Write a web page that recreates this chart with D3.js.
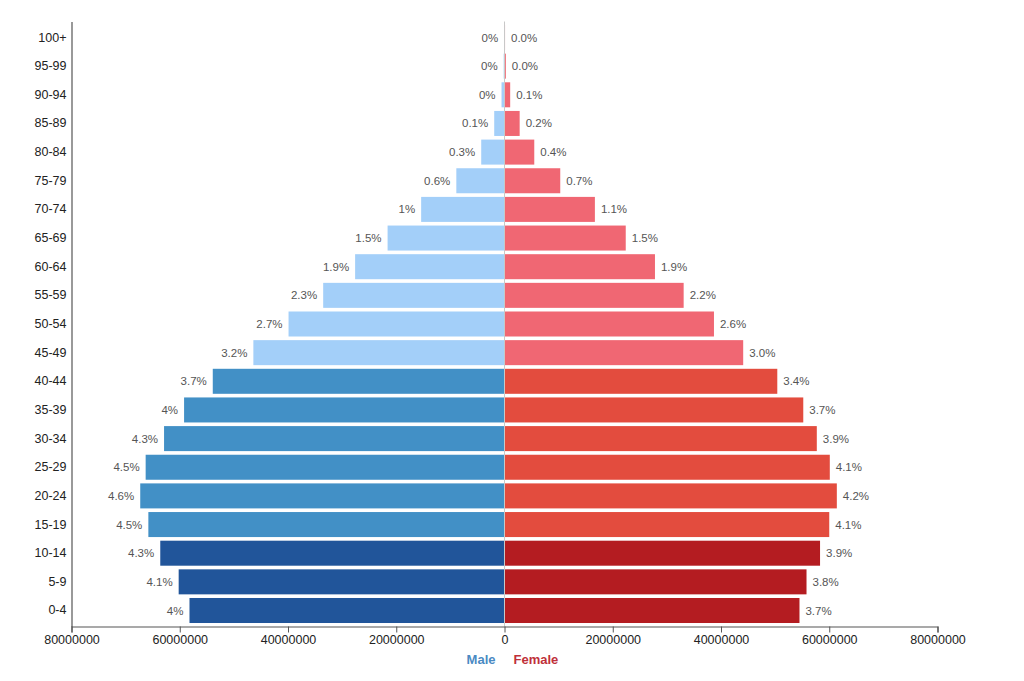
<!DOCTYPE html>
<html><head><meta charset="utf-8">
<script src="https://cdn.jsdelivr.net/npm/d3@7"></script>
<style>
body{margin:0;background:#fff;}
svg{font-family:"Liberation Sans",Arial,Helvetica,sans-serif;}
</style></head>
<body><svg id="c" width="1024" height="681"></svg>
<script>
const ageGroups = ["100+","95-99","90-94","85-89","80-84","75-79","70-74","65-69","60-64","55-59","50-54","45-49","40-44","35-39","30-34","25-29","20-24","15-19","10-14","5-9","0-4"];
const maleValues = [50000,150000,550000,1900000,4300000,8900000,15400000,21600000,27600000,33500000,39900000,46400000,53900000,59200000,62900000,66300000,67300000,65800000,63600000,60200000,58200000];
const femaleValues = [100000,250000,1050000,2800000,5500000,10300000,16700000,22400000,27800000,33100000,38700000,44100000,50400000,55200000,57700000,60100000,61400000,60000000,58300000,55800000,54500000];
const maleLabels = ["0%","0%","0%","0.1%","0.3%","0.6%","1%","1.5%","1.9%","2.3%","2.7%","3.2%","3.7%","4%","4.3%","4.5%","4.6%","4.5%","4.3%","4.1%","4%"];
const femaleLabels = ["0.0%","0.0%","0.1%","0.2%","0.4%","0.7%","1.1%","1.5%","1.9%","2.2%","2.6%","3.0%","3.4%","3.7%","3.9%","4.1%","4.2%","4.1%","3.9%","3.8%","3.7%"];
const groupOf = ["old","old","old","old","old","old","old","old","old","old","old","old","adult","adult","adult","adult","adult","adult","young","young","young"];
const xTicks = [-80000000,-60000000,-40000000,-20000000,0,20000000,40000000,60000000,80000000];

const maleColor = {old:"#a3cff9", adult:"#4290c6", young:"#21559a"};
const femaleColor = {old:"#f06773", adult:"#e34c3e", young:"#b41c21"};

const svg = d3.select("#c");
const mLeft = 71.5, mRight = 937.5, mTop = 21.5, mBottom = 626.5;
const x = d3.scaleLinear().domain([-80000000, 80000000]).range([mLeft, mRight]);
const y = d3.scaleBand().domain(ageGroups).range([mTop, mBottom]).paddingInner(0.127).paddingOuter(0.122);

const rows = ageGroups.map((a,i)=>({age:a, m:maleValues[i], f:femaleValues[i], ml:maleLabels[i], fl:femaleLabels[i], g:groupOf[i]}));

svg.append("g").selectAll("rect").data(rows).join("rect")
  .attr("x", d=>x(-d.m)).attr("y", d=>y(d.age))
  .attr("width", d=>x(0)-x(-d.m)).attr("height", y.bandwidth())
  .attr("fill", d=>maleColor[d.g]);
svg.append("g").selectAll("rect").data(rows).join("rect")
  .attr("x", x(0)).attr("y", d=>y(d.age))
  .attr("width", d=>x(d.f)-x(0)).attr("height", y.bandwidth())
  .attr("fill", d=>femaleColor[d.g]);

svg.append("line").attr("x1", x(0)).attr("x2", x(0)).attr("y1", mTop).attr("y2", mBottom)
  .attr("stroke", "#c8c8c8").attr("stroke-width", 1);

svg.append("g").selectAll("text").data(rows).join("text")
  .attr("x", d=>x(-d.m)-6).attr("y", d=>y(d.age)+y.bandwidth()/2)
  .attr("dy","0.35em").attr("text-anchor","end")
  .attr("font-size", 11.5).attr("fill","#555").text(d=>d.ml);
svg.append("g").selectAll("text").data(rows).join("text")
  .attr("x", d=>x(d.f)+6).attr("y", d=>y(d.age)+y.bandwidth()/2)
  .attr("dy","0.35em").attr("text-anchor","start")
  .attr("font-size", 11.5).attr("fill","#555").text(d=>d.fl);

const yAxis = svg.append("g").attr("transform", `translate(${mLeft},0)`)
  .call(d3.axisLeft(y).tickSize(0).tickPadding(5));
yAxis.select(".domain").attr("stroke","#555").attr("stroke-width",1.2);
yAxis.selectAll("text").attr("font-size",12.5).attr("fill","#222").attr("font-family","inherit");

const xAxis = svg.append("g").attr("transform", `translate(0,${mBottom})`)
  .call(d3.axisBottom(x).tickValues(xTicks).tickSize(6).tickPadding(3).tickFormat(d=>String(Math.abs(d))));
xAxis.select(".domain").attr("stroke","#555").attr("stroke-width",1.2);
xAxis.selectAll(".tick line").attr("stroke","#555");
xAxis.selectAll("text").attr("font-size",12.5).attr("fill","#222").attr("font-family","inherit");

svg.append("text").attr("x", x(0)-9).attr("y", 659).attr("dy","0.35em").attr("text-anchor","end")
  .attr("font-size",13).attr("font-weight","bold").attr("fill","#4a8ac3").text("Male");
svg.append("text").attr("x", x(0)+9).attr("y", 659).attr("dy","0.35em").attr("text-anchor","start")
  .attr("font-size",13).attr("font-weight","bold").attr("fill","#c0303a").text("Female");
</script></body></html>
